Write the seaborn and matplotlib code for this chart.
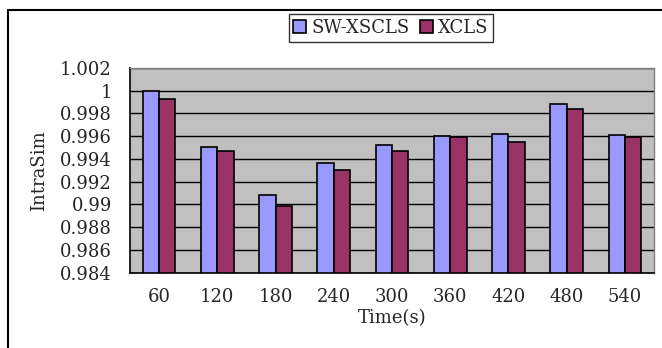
import matplotlib
matplotlib.use("Agg")
import matplotlib.pyplot as plt
from matplotlib.lines import Line2D
from matplotlib.ticker import FixedLocator, FixedFormatter
import seaborn as sns
import pandas as pd

times = ["60", "120", "180", "240", "300", "360", "420", "480", "540"]
sw_xscls = [1.0000, 0.9950, 0.9908, 0.9936, 0.9952, 0.9960, 0.9962, 0.9988, 0.9961]
xcls = [0.9993, 0.9947, 0.9899, 0.9930, 0.9947, 0.9959, 0.9955, 0.9984, 0.9959]
series = ["SW-XSCLS", "XCLS"]
colors = ["#9999FF", "#993366"]
ytick_vals = [0.984, 0.986, 0.988, 0.990, 0.992, 0.994, 0.996, 0.998, 1.000, 1.002]
ytick_labels = ["0.984", "0.986", "0.988", "0.99", "0.992", "0.994", "0.996", "0.998", "1", "1.002"]

df = pd.DataFrame({
    "Time": times * 2,
    "IntraSim": sw_xscls + xcls,
    "Method": [series[0]] * len(times) + [series[1]] * len(times),
})

sns.set_style("white")
plt.rcParams["font.family"] = ["DejaVu Serif"]
FS = 13

W, H = 662, 348
fig = plt.figure(figsize=(W / 100, H / 100), dpi=100)
ax = fig.add_axes([130 / W, 1 - 272.7 / H, (654 - 130) / W, (272.7 - 67.8) / H])
ax.set_facecolor("#C0C0C0")

sns.barplot(data=df, x="Time", y="IntraSim", hue="Method", order=times,
            hue_order=series, palette=colors, width=0.56, edgecolor="black",
            linewidth=1.2, saturation=1, ax=ax, legend=True)

ax.set_ylim(0.984, 1.002)
ax.set_xlim(-0.5, len(times) - 0.5)
ax.yaxis.set_major_locator(FixedLocator(ytick_vals))
ax.yaxis.set_major_formatter(FixedFormatter(ytick_labels))
ax.yaxis.grid(True, color="black", linewidth=1)
ax.xaxis.grid(False)
ax.set_axisbelow(True)

ax.tick_params(axis="y", direction="out", length=4, width=1, color="black",
               pad=9, labelsize=FS)
ax.tick_params(axis="x", which="major", length=0, pad=11, labelsize=FS)
ax.set_xticks([i + 0.5 for i in range(len(times))], minor=True)
ax.tick_params(axis="x", which="minor", direction="in", length=4, width=1, color="black")

for s in ["left", "bottom"]:
    ax.spines[s].set_color("black")
    ax.spines[s].set_linewidth(1.2)
for s in ["top", "right"]:
    ax.spines[s].set_color("#808080")
    ax.spines[s].set_linewidth(1.0)

ax.set_xlabel("Time(s)", fontsize=FS, labelpad=2)
ax.set_ylabel("IntraSim", fontsize=FS, labelpad=9)

handles, labels = ax.get_legend_handles_labels()
ax.get_legend().remove()
leg = fig.legend(handles, labels, loc="center", bbox_to_anchor=(391 / W, 1 - 28 / H),
                 ncol=2, frameon=True, fontsize=FS, handlelength=0.7, handleheight=0.7,
                 handletextpad=0.3, columnspacing=0.6, borderpad=0.25, fancybox=False)
leg.get_frame().set_edgecolor("black")
leg.get_frame().set_linewidth(1.0)

fig.add_artist(Line2D([8 / W, 8 / W], [0, 1 - 10 / H], transform=fig.transFigure,
                      color="black", linewidth=1.5))
fig.add_artist(Line2D([8 / W, 1], [1 - 10 / H, 1 - 10 / H], transform=fig.transFigure,
                      color="black", linewidth=1.5))

fig.savefig("out.png", dpi=100)
